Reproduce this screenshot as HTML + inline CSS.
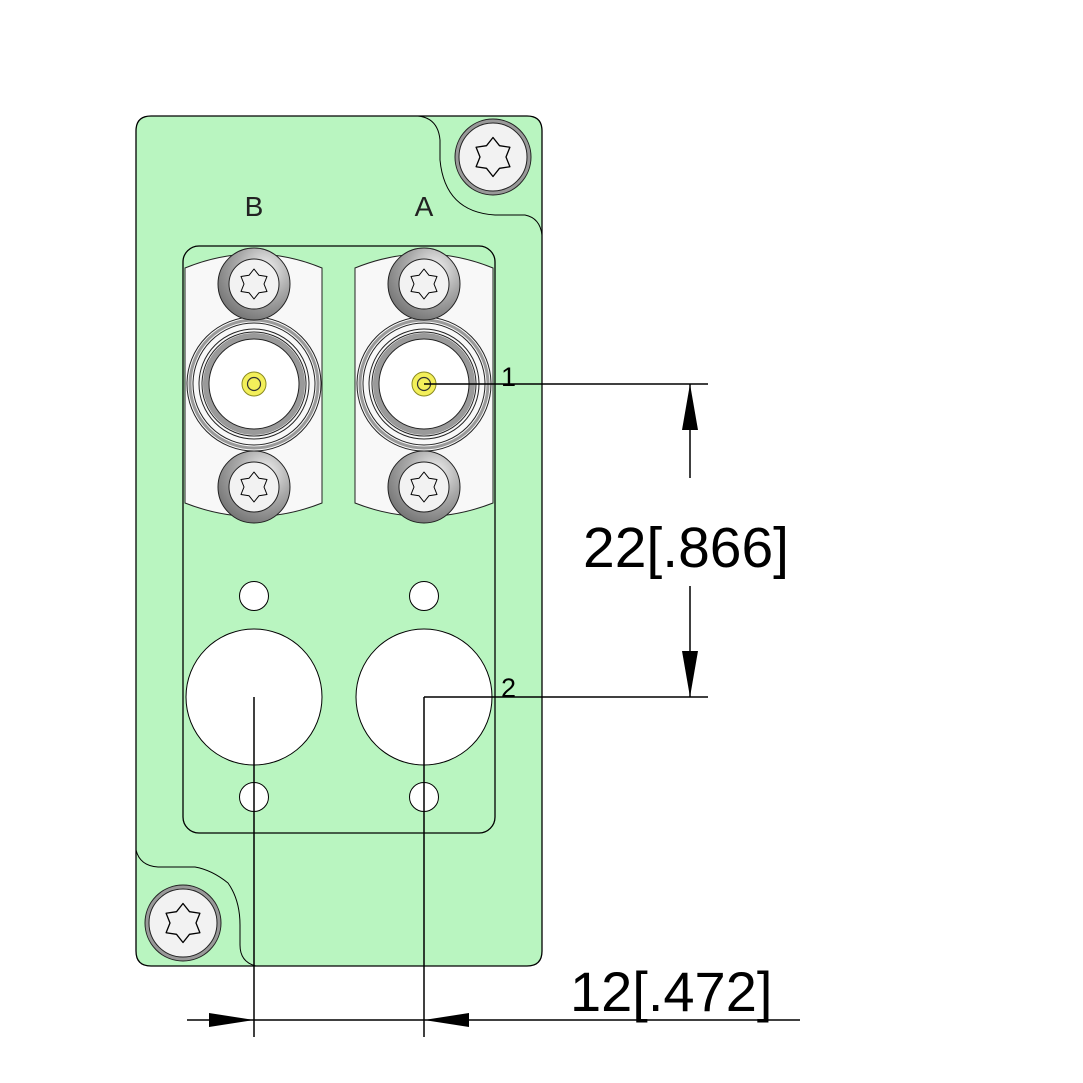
<!DOCTYPE html>
<html><head><meta charset="utf-8"><style>html,body{margin:0;padding:0;background:#fff}svg{display:block}</style></head>
<body>
<svg width="1083" height="1083" viewBox="0 0 1083 1083" xmlns="http://www.w3.org/2000/svg">
<defs>
<radialGradient id="sg" cx="0.65" cy="0.3" r="0.8">
<stop offset="0" stop-color="#f4f4f4"/><stop offset="0.5" stop-color="#a8a8a8"/><stop offset="1" stop-color="#6e6e6e"/>
</radialGradient>
<g id="star"><polygon points="0,-15 5,-8.7 13,-7.5 10,0 13,7.5 5,8.7 0,15 -5,8.7 -13,7.5 -10,0 -13,-7.5 -5,-8.7" fill="#f2f2f2" stroke="#000" stroke-width="1" stroke-linejoin="round"/></g>
<g id="screw"><circle r="36" fill="url(#sg)" stroke="#222" stroke-width="1"/><circle r="25" fill="#f2f2f2" stroke="#222" stroke-width="1"/><use href="#star"/></g>
<g id="bigscrew"><circle r="38" fill="#999" stroke="#222" stroke-width="1"/><circle r="34" fill="#f2f2f2" stroke="#222" stroke-width="1"/><use href="#star" transform="scale(1.3)"/></g>
<g id="bnc">
<circle r="67" fill="#f8f8f8" stroke="#222" stroke-width="1"/>
<circle r="64" fill="none" stroke="#999" stroke-width="3"/>
<circle r="61" fill="#f8f8f8" stroke="#222" stroke-width="1"/>
<circle r="55" fill="none" stroke="#222" stroke-width="1"/>
<circle r="52" fill="#fff" stroke="#222" stroke-width="1"/>
<circle r="48" fill="#fff" stroke="#9a9a9a" stroke-width="6"/>
<circle r="45" fill="#fff" stroke="#222" stroke-width="1"/>
<circle r="12" fill="#f3ef5a" stroke="#8a8a20" stroke-width="1"/>
<circle r="6.5" fill="#f3ef5a" stroke="#333" stroke-width="1.2"/>
</g>
</defs>
<path d="M151,116 H527 Q542,116 542,131 V951 Q542,966 527,966 H151 Q136,966 136,951 V131 Q136,116 151,116 Z" fill="#b9f5c0" stroke="#000" stroke-width="1.3"/>
<path d="M418,116 Q438,118 440,140 V160 Q445,212 495,215 H525 Q540,218 542,235" fill="none" stroke="#000" stroke-width="1"/>
<path d="M136,850 Q140,866 158,867 H195 Q212,870 228,883 Q240,900 240,925 V945 Q240,962 256,966" fill="none" stroke="#000" stroke-width="1"/>
<use href="#bigscrew" x="493" y="157"/>
<use href="#bigscrew" x="183" y="923"/>
<rect x="183" y="246" width="312" height="587" rx="16" fill="none" stroke="#000" stroke-width="1.3"/>
<path d="M185,268 Q254,240 322,268 V503 Q254,530 185,503 Z" fill="#f8f8f8" stroke="#222" stroke-width="1"/>
<path d="M355,268 Q424,240 493,268 V503 Q424,530 355,503 Z" fill="#f8f8f8" stroke="#222" stroke-width="1"/>
<use href="#bnc" x="254" y="384"/>
<use href="#bnc" x="424" y="384"/>
<use href="#screw" x="254" y="284"/>
<use href="#screw" x="424" y="284"/>
<use href="#screw" x="254" y="487"/>
<use href="#screw" x="424" y="487"/>
<g fill="#fff" stroke="#000" stroke-width="1">
<circle cx="254" cy="596" r="14.5"/><circle cx="424" cy="596" r="14.5"/>
<circle cx="254" cy="797" r="14.5"/><circle cx="424" cy="797" r="14.5"/>
<circle cx="254" cy="697" r="68"/><circle cx="424" cy="697" r="68"/>
</g>
<g font-family="Liberation Sans, sans-serif" fill="#222" text-anchor="middle">
<text x="254" y="216" font-size="28">B</text>
<text x="424" y="216" font-size="28">A</text>
</g>
<g font-family="Liberation Sans, sans-serif" fill="#000">
<text x="501" y="386" font-size="27">1</text>
<text x="501" y="697" font-size="27">2</text>
</g>
<g stroke="#000" stroke-width="1.5" fill="none">
<line x1="424" y1="384" x2="708" y2="384"/>
<line x1="424" y1="697" x2="708" y2="697"/>
<line x1="690" y1="384" x2="690" y2="478"/>
<line x1="690" y1="586" x2="690" y2="697"/>
<line x1="254" y1="697" x2="254" y2="1037"/>
<line x1="424" y1="697" x2="424" y2="1037"/>
<line x1="187" y1="1020" x2="800" y2="1020"/>
</g>
<g fill="#000">
<polygon points="690,384 682,430 698,430"/>
<polygon points="690,697 682,651 698,651"/>
<polygon points="254,1020 209,1013 209,1027"/>
<polygon points="424,1020 469,1013 469,1027"/>
</g>
<g font-family="Liberation Sans, sans-serif" fill="#000">
<text x="583" y="567" font-size="57">22[.866]</text>
<text x="570" y="1011" font-size="56">12[.472]</text>
</g>
</svg>
</body></html>
